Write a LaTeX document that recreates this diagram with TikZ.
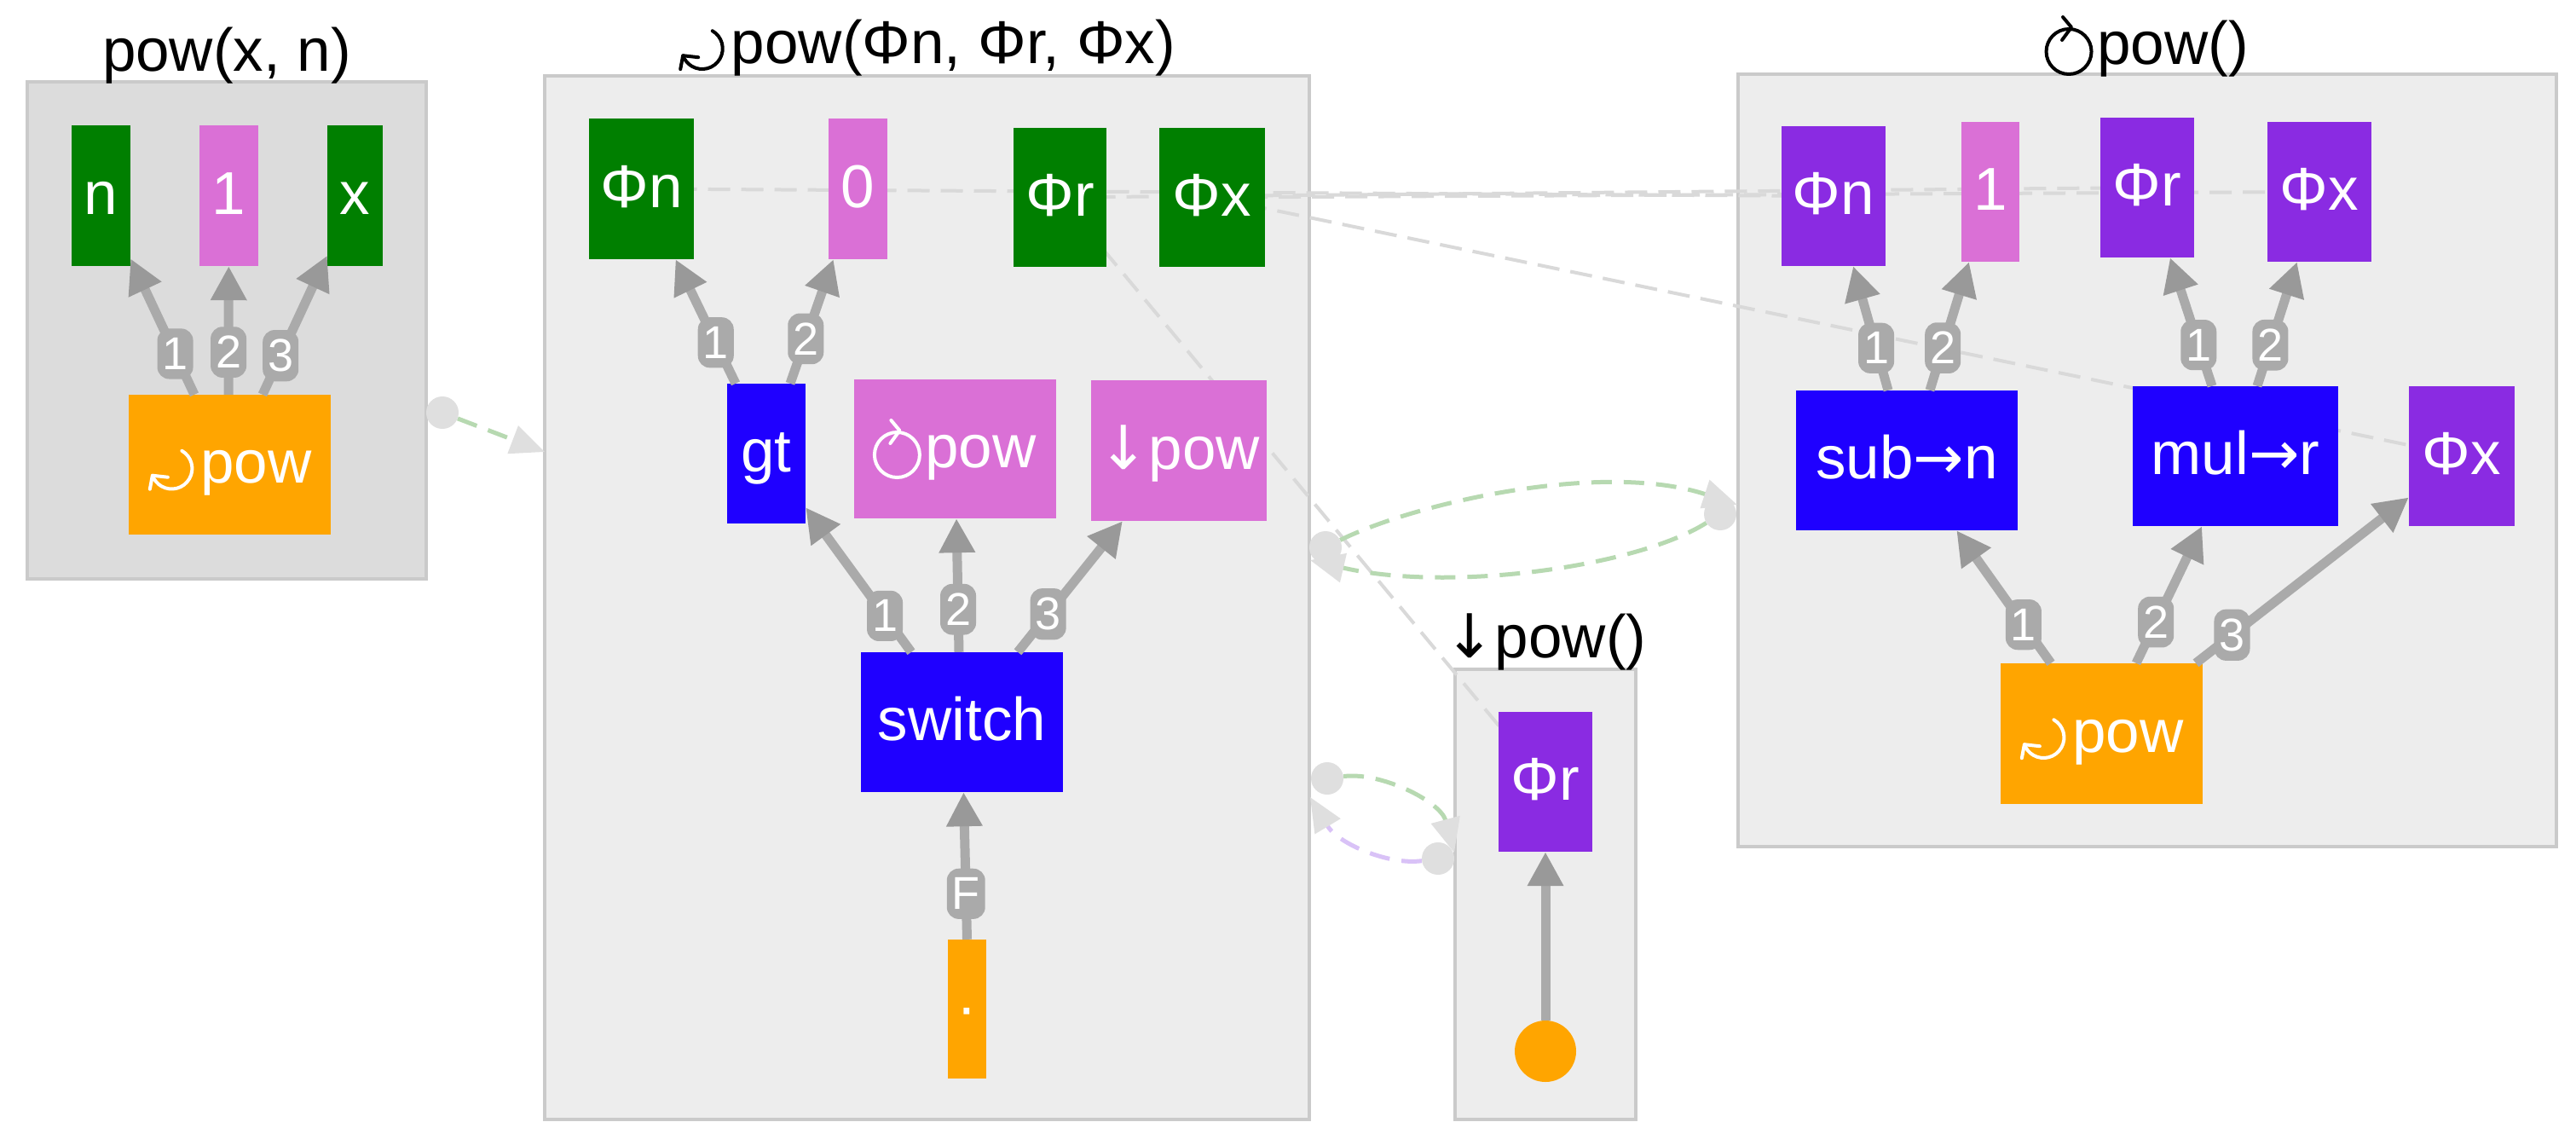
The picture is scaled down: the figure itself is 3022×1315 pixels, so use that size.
\documentclass[tikz,border=0pt]{standalone}
\usepackage{fontspec}
\setmainfont{Liberation Sans}
\newfontfamily\symfont{DejaVu Sans}
\usetikzlibrary{arrows.meta}

\definecolor{gvgreen}{HTML}{007F00}
\definecolor{gvorchid}{HTML}{DA70D6}
\definecolor{gvblue}{HTML}{1F00FF}
\definecolor{gvviolet}{HTML}{8A2BE2}
\definecolor{gvorange}{HTML}{FFA500}
\definecolor{wiregray}{HTML}{AAAAAA}
\definecolor{tipgray}{HTML}{999999}
\definecolor{clusterA}{HTML}{DCDCDC}
\definecolor{clusterB}{HTML}{EDEDED}
\definecolor{clusterline}{HTML}{CACACA}
\definecolor{ghostgray}{HTML}{D9D9D9}
\definecolor{markgray}{HTML}{DFDFDF}
\definecolor{flowgreen}{HTML}{B7D9B1}
\definecolor{flowviolet}{HTML}{D9C2F7}

\pgfdeclarelayer{bg}
\pgfdeclarelayer{mid}
\pgfsetlayers{bg,mid,main}

\newcommand\dnarr{{\symfont ↓}}
\newcommand\rtarr{{\symfont →}}

\tikzset{
  blk/.style={rectangle, inner sep=0pt, text=white,
    font=\fontsize{71}{80}\selectfont, text height=48pt, text depth=5pt},
  sz/.style 2 args={minimum width=#1pt, minimum height=#2pt},
  vgreen/.style={blk, fill=gvgreen},
  vorchid/.style={blk, fill=gvorchid},
  vblue/.style={blk, fill=gvblue},
  vviolet/.style={blk, fill=gvviolet},
  vorange/.style={blk, fill=gvorange},
  cluster/.style={rectangle, inner sep=0pt, draw=clusterline, line width=4pt},
  title/.style={anchor=base, inner sep=0pt, font=\fontsize{71}{80}\selectfont},
  wire/.style={draw=wiregray, line width=11pt,
    -{Triangle[length=40pt, width=40pt, color=tipgray]}},
  wlab/.style={fill=wiregray, text=white, rounded corners=14pt,
    inner xsep=6pt, inner ysep=11pt, font=\fontsize{54}{60}\selectfont},
  ghost/.style={draw=ghostgray, line width=4pt, dash pattern=on 26pt off 13pt},
  flow/.style={line width=5pt, dash pattern=on 24pt off 14pt,
    -{Triangle[length=40pt, width=34pt, color=markgray]}},
  tailmark/.style={circle, fill=markgray, minimum size=38pt, inner sep=0pt},
  % right-side arc clockwise arrow, origin at the baseline start of the glyph
  arcglyph/.pic={
    \begin{scope}[yscale=-1, line width=4pt, line cap=round, line join=round]
      \draw (28,17) ++(60:24) arc[start angle=60, end angle=-160, radius=24];
      \draw (28,17) ++(-160:24) coordinate (-tip) ++(18,-2)
        -- (-tip) -- ++(-3,-16);
    \end{scope}
  },
  % clockwise closed circle arrow
  loopglyph/.pic={
    \begin{scope}[yscale=-1, line width=4pt, line cap=round, line join=round]
      \draw (27,14.5) circle[radius=26.5];
      \draw (20,55) -- (30,43) -- (19,28);
    \end{scope}
  },
}

\begin{document}
\begin{tikzpicture}[x=1pt, y=-1pt]
\useasboundingbox (0,0) rectangle (3022,1315);

% cluster frames
\begin{pgfonlayer}{bg}
  \fill[white] (0,0) rectangle (3022,1315);
  \node[cluster, fill=clusterA, sz={468}{583}] (c1) at (266,387.5) {};
  \node[cluster, fill=clusterB, sz={897}{1224}] (c2) at (1087.5,701) {};
  \node[cluster, fill=clusterB, sz={212}{528}] (c3) at (1813,1049) {};
  \node[cluster, fill=clusterB, sz={960}{906}] (c4) at (2519,540) {};
\end{pgfonlayer}

\node[title] (t1) at ([yshift=11pt]c1.north) {pow(x, n)};
\node[title] (t2) at ([yshift=13pt]c2.north) {\hspace*{62pt}pow(Φn, Φr, Φx)};
\node[title] (t3) at ([yshift=12pt]c3.north) {\dnarr pow()};
\node[title] (t4) at ([yshift=10pt]c4.north) {\hspace*{60pt}pow()};
\pic[black] at (t2.base west) {arcglyph};
\pic[black] at (t4.base west) {loopglyph};

% pow(x, n)
\node[vgreen, sz={69}{165}] (a_n) at (118.5,229.5) {n};
\node[vorchid, sz={69}{165}] (a_one) at (268.5,229.5) {1};
\node[vgreen, sz={65}{165}] (a_x) at (416.5,229.5) {x};
\node[vorange, sz={237}{164}] (a_pow) at (269.5,545) {\hspace*{62pt}pow};
\pic[white] at ([xshift=-96.1pt, yshift=-21.5pt]a_pow.center) {arcglyph};

% recursive pow
\node[vgreen, sz={123}{165}] (b_n) at (752.5,221.5) {Φn};
\node[vorchid, sz={69}{165}] (b_zero) at (1006.5,221.5) {0};
\node[vgreen, sz={109}{163}] (b_r) at (1243.5,231.5) {Φr};
\node[vgreen, sz={124}{163}] (b_x) at (1422,231.5) {Φx};
\node[vblue, sz={92}{164}] (b_gt) at (899,532) {gt};
\node[vorchid, sz={237}{163}] (b_loop) at (1120.5,526.5) {\hspace*{60pt}pow};
\pic[white] at ([xshift=-95.1pt, yshift=-21.5pt]b_loop.center) {loopglyph};
\node[vorchid, sz={206}{165}] (b_down) at (1383,528.5) {\dnarr pow};
\node[vblue, sz={237}{164}] (b_sw) at (1128.5,847) {switch};
\node[vorange, sz={45}{163}] (b_dot) at (1134.5,1183.5) {·};

% exit branch
\node[vviolet, sz={110}{164}] (c_r) at (1813,917) {Φr};
\node[circle, fill=gvorange, minimum size=72pt, inner sep=0pt] (c_src) at (1813,1233) {};

% loop body
\node[vviolet, sz={122}{164}] (d_n) at (2151,230) {Φn};
\node[vorchid, sz={68}{164}] (d_one) at (2335,225) {1};
\node[vviolet, sz={110}{164}] (d_r) at (2519,220) {Φr};
\node[vviolet, sz={122}{164}] (d_x) at (2721,225) {Φx};
\node[vblue, sz={260}{164}] (d_sub) at (2237,540) {sub\rtarr n};
\node[vblue, sz={241}{164}] (d_mul) at (2622.5,535) {mul\rtarr r};
\node[vviolet, sz={124}{164}] (d_xx) at (2888,535) {Φx};
\node[vorange, sz={237}{165}] (d_pow) at (2465.5,860.5) {\hspace*{62pt}pow};
\pic[white] at ([xshift=-96.1pt, yshift=-21.5pt]d_pow.center) {arcglyph};

% operand wires
\draw[wire] ([xshift=-41.5pt]a_pow.north) -- node[wlab, pos=0.3] (la1) {1} (a_n);
\draw[wire] ([xshift=-1.5pt]a_pow.north) -- node[wlab, pos=0.33] (la2) {2} (a_one);
\draw[wire] ([xshift=38.5pt]a_pow.north) -- node[wlab, pos=0.28] (la3) {3} (a_x);

\draw[wire] ([xshift=-36pt]b_gt.north) -- node[wlab, pos=0.33] (lb1) {1} (b_n);
\draw[wire] ([xshift=28pt]b_gt.north) -- node[wlab, pos=0.36] (lb2) {2} (b_zero);
\draw[wire] ([xshift=-59.5pt]b_sw.north) -- node[wlab, pos=0.25] (lb3) {1} (b_gt);
\draw[wire] ([xshift=-3.5pt]b_sw.north) -- node[wlab, pos=0.32] (lb4) {2} (b_loop);
\draw[wire] ([xshift=65.5pt]b_sw.north) -- node[wlab, pos=0.29] (lb5) {3} (b_down);
\draw[wire] (b_dot.north) -- node[wlab, pos=0.31] (lb6) {F} (b_sw);

\draw[wire] (c_src) -- (c_r);

\draw[wire] ([xshift=-22pt]d_sub.north) -- node[wlab, pos=0.34] (ld1) {1} (d_n);
\draw[wire] ([xshift=27pt]d_sub.north) -- node[wlab, pos=0.33] (ld2) {2} (d_one);
\draw[wire] ([xshift=-27.5pt]d_mul.north) -- node[wlab, pos=0.32] (ld3) {1} (d_r);
\draw[wire] ([xshift=25.5pt]d_mul.north) -- node[wlab, pos=0.33] (ld4) {2} (d_x);
\draw[wire] ([xshift=-59.5pt]d_pow.north) -- node[wlab, pos=0.29] (ld5) {1} (d_sub);
\draw[wire] ([xshift=40.5pt]d_pow.north) -- node[wlab, pos=0.30] (ld6) {2} (d_mul);
\draw[wire] ([xshift=110.5pt]d_pow.north) -- node[wlab, pos=0.17] (ld7) {3} (d_xx);

% control-flow tails and heads
\node[tailmark] (m1) at (519,484) {};
\node[tailmark] (m2) at (1555,642) {};
\node[tailmark] (m3) at (2018,603) {};
\node[tailmark] (m4) at (1557,913) {};
\node[tailmark] (m5) at (1687,1007) {};
\coordinate (h1) at (639,530);
\coordinate (h2) at (2038,592);
\coordinate (h3) at (1537,657);
\coordinate (h4) at (1706,1000);
\coordinate (h5) at (1537,935);

\begin{pgfonlayer}{mid}
  % phi correspondences
  \draw[ghost] (b_n.center) -- (d_n.center);
  \draw[ghost] (b_r.center) -- (d_r.center);
  \draw[ghost] (b_x.center) -- (d_x.center);
  \draw[ghost] (b_x.center) -- (d_xx.center);
  \draw[ghost] (b_r.center) -- (c_r.center);
  % control flow between regions
  \draw[flow, draw=flowgreen] (m1) -- (h1);
  \draw[flow, draw=flowgreen] (m2) .. controls (1660,590) and (1880,540) .. (h2);
  \draw[flow, draw=flowgreen] (m3) .. controls (1920,665) and (1700,695) .. (h3);
  \draw[flow, draw=flowgreen] (m4) .. controls (1620,905) and (1690,940) .. (h4);
  \draw[flow, draw=flowviolet] (m5) .. controls (1630,1015) and (1570,990) .. (h5);
\end{pgfonlayer}
\end{tikzpicture}
\end{document}
